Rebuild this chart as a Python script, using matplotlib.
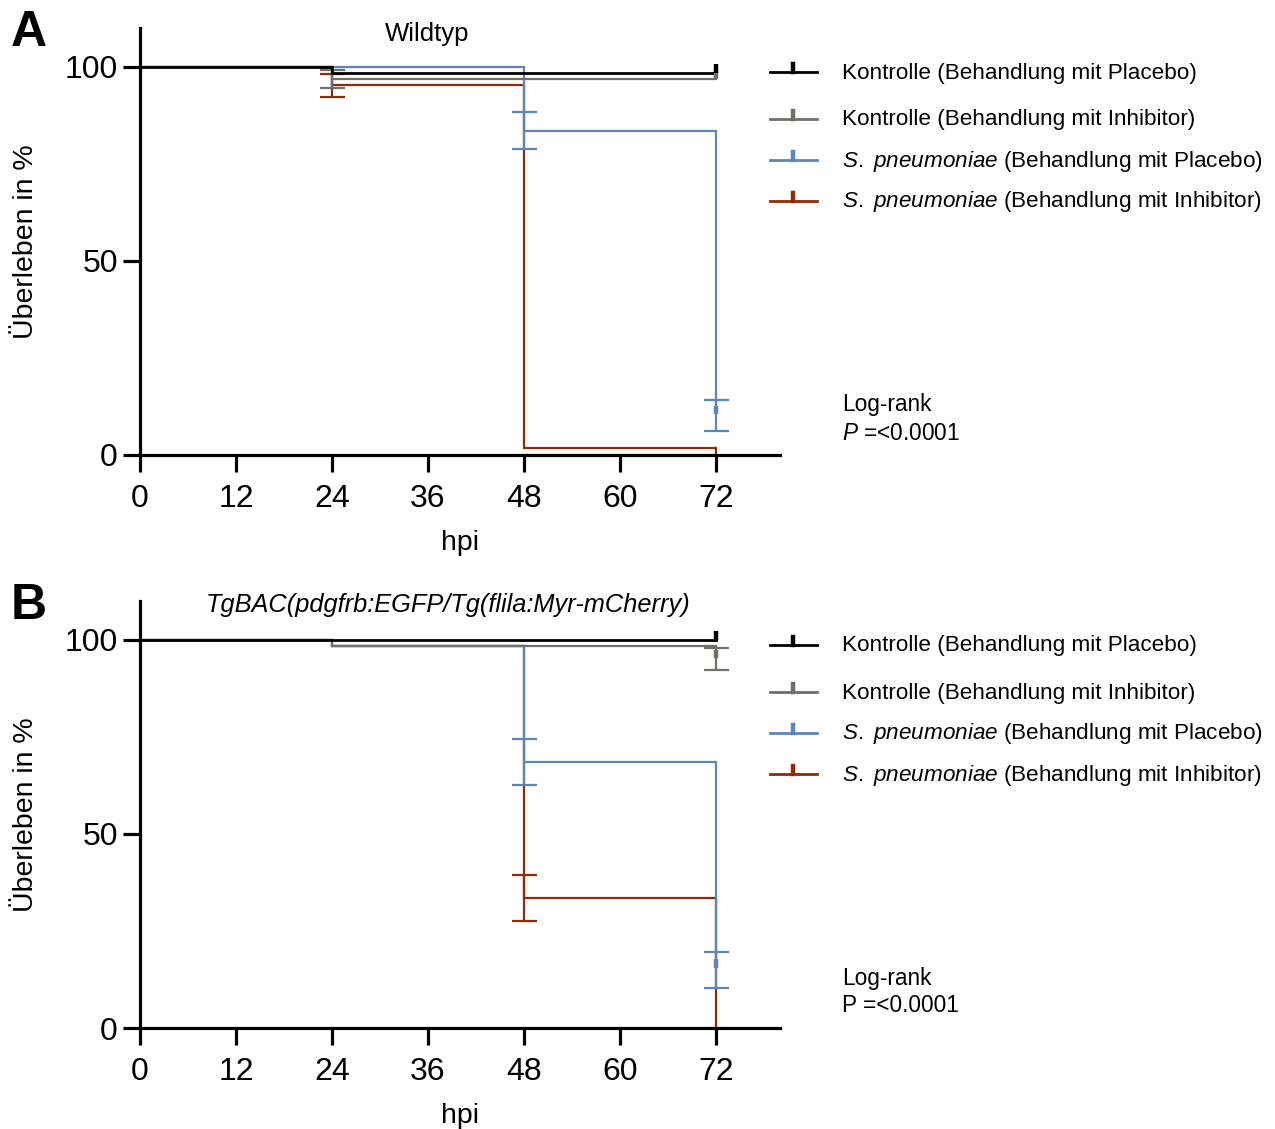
import matplotlib
matplotlib.use("Agg")
import matplotlib.pyplot as plt
from matplotlib.lines import Line2D

plt.rcParams['font.family'] = ['Liberation Sans', 'DejaVu Sans']
plt.rcParams['mathtext.fontset'] = 'custom'
plt.rcParams['mathtext.rm'] = 'Liberation Sans'
plt.rcParams['mathtext.it'] = 'Liberation Sans:italic'

# time points (hpi)
times = [0, 24, 48, 72]

groups = ["Kontrolle (Behandlung mit Placebo)",
          "Kontrolle (Behandlung mit Inhibitor)",
          r"$\mathit{S.\ pneumoniae}$ (Behandlung mit Placebo)",
          r"$\mathit{S.\ pneumoniae}$ (Behandlung mit Inhibitor)"]
colors = ["#000000", "#6e716a", "#5a86bd", "#8e2c08"]

# Panel A - Wildtyp, survival in %
surv_a = {
    "ctrl_placebo": [100, 98.5, 98.5, 98.5],
    "ctrl_inhib": [100, 96.9, 96.9, 96.9],
    "spn_placebo": [100, 100, 83.5, 10.5],
    "spn_inhib": [100, 95.3, 1.9, 0],
}
# error bars: (group, time, low, high)
err_a = [("ctrl_inhib", 24, 94.6, 99.2),
         ("spn_inhib", 24, 92.3, 98.2),
         ("spn_placebo", 48, 78.8, 88.3),
         ("spn_placebo", 72, 6.3, 14.2)]
# censored at end (group, value)
cens_a = [("ctrl_placebo", 98.5), ("ctrl_inhib", 96.9), ("spn_placebo", 10.5)]

# Panel B - TgBAC
surv_b = {
    "ctrl_placebo": [100, 100, 100, 100],
    "ctrl_inhib": [100, 98.5, 98.5, 95.2],
    "spn_placebo": [100, 98.4, 68.4, 15.5],
    "spn_inhib": [100, 98.4, 33.4, 0],
}
err_b = [("spn_placebo", 48, 62.5, 74.4),
         ("spn_inhib", 48, 27.5, 39.4),
         ("ctrl_inhib", 72, 92.3, 97.9),
         ("spn_placebo", 72, 10.4, 19.7)]
cens_b = [("ctrl_placebo", 100), ("ctrl_inhib", 95.2), ("spn_placebo", 15.5)]

keys = ["ctrl_placebo", "ctrl_inhib", "spn_placebo", "spn_inhib"]
col = dict(zip(keys, colors))
zord = {"spn_inhib": 2, "spn_placebo": 3, "ctrl_inhib": 4, "ctrl_placebo": 5}

W, H = 1275, 1129
fig = plt.figure(figsize=(W / 100, H / 100), dpi=100)


def px(x, y):
    return x / W, 1 - y / H


def draw_panel(ax, surv, err, cens):
    for k in keys:
        lw = 2.0 if k == "ctrl_placebo" else 1.6
        ax.step(times, surv[k], where="post", color=col[k], lw=lw,
                zorder=zord[k], solid_joinstyle="miter")
    for k, t, lo, hi in err:
        ax.errorbar(t, (lo + hi) / 2, yerr=[[(hi - lo) / 2], [(hi - lo) / 2]],
                    fmt="none", ecolor=col[k], elinewidth=1.6, capsize=9,
                    capthick=1.6, zorder=zord[k])
    for k, v in cens:
        ax.vlines(72, v, v + 2.2, color=col[k], lw=3.2, zorder=zord[k] + 1)
    ax.set_xlim(0, 80)
    ax.set_ylim(0, 110)
    ax.set_xticks([0, 12, 24, 36, 48, 60, 72])
    ax.set_yticks([0, 50, 100])
    for s in ["top", "right"]:
        ax.spines[s].set_visible(False)
    for s in ["left", "bottom"]:
        ax.spines[s].set_linewidth(2.3)
    ax.tick_params(length=12, width=2.3, labelsize=23)
    ax.tick_params(axis="x", pad=9)
    ax.tick_params(axis="y", pad=4)
    ax.set_xlabel("hpi", fontsize=20.5)
    ax.set_ylabel("Überleben in %", fontsize=20.5)
    ax.xaxis.set_label_coords(0.5, -0.176)
    ax.yaxis.set_label_coords(-0.158, 0.5)


ax_a = fig.add_axes([140 / W, 1 - 455 / H, 640 / W, 427 / H])
ax_b = fig.add_axes([140 / W, 1 - 1028 / H, 640 / W, 427 / H])
draw_panel(ax_a, surv_a, err_a, cens_a)
draw_panel(ax_b, surv_b, err_b, cens_b)

fig.text(*px(11, 33), "A", fontsize=36, fontweight="bold", va="center")
fig.text(*px(11, 606), "B", fontsize=36, fontweight="bold", va="center")
fig.text(*px(427, 34), "Wildtyp", fontsize=18.5, ha="center", va="center")
fig.text(*px(448, 605), "TgBAC(pdgfrb:EGFP/Tg(flila:Myr-mCherry)",
         fontsize=18.3, style="italic", ha="center", va="center")


def draw_legend(y0):
    rows = [y0, y0 + 47, y0 + 88, y0 + 129]
    for lab, c, y in zip(groups, colors, rows):
        fig.add_artist(Line2D([770 / W, 817 / W], [1 - y / H, 1 - y / H],
                              color=c, lw=2.0, transform=fig.transFigure))
        fig.add_artist(Line2D([793 / W, 793 / W], [1 - y / H, 1 - (y - 8) / H],
                              color=c, lw=3.2, transform=fig.transFigure))
        fig.text(*px(842, y + 1), lab, fontsize=16.2, va="center")


draw_legend(72)
draw_legend(645)

fig.text(*px(842, 405), "Log-rank", fontsize=16.3, va="center")
fig.text(*px(842, 433), r"$\mathit{P}$ =<0.0001", fontsize=16.3, va="center")
fig.text(*px(842, 979), "Log-rank", fontsize=16.3, va="center")
fig.text(*px(842, 1006), "P =<0.0001", fontsize=16.3, va="center")

fig.savefig("out.png", dpi=100)
